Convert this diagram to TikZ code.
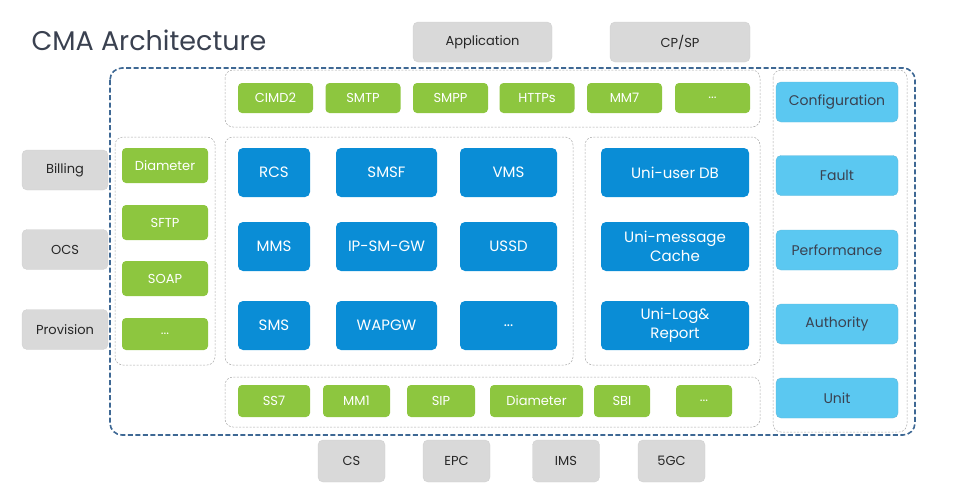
\documentclass[tikz,border=0pt]{standalone}
\usepackage{fontspec}
\setmainfont{Poppins}
\usetikzlibrary{positioning}
\definecolor{cmagreen}{HTML}{8DC63F}
\definecolor{cmablue}{HTML}{0A8DD6}
\definecolor{cmasky}{HTML}{5BC8F1}
\definecolor{cmagray}{HTML}{D9D9D9}
\definecolor{cmaframe}{HTML}{3E6894}
\definecolor{cmatext}{HTML}{3A4150}
\tikzset{
  gbox/.style = {rectangle, rounded corners=4pt, fill=cmagreen, text=white, inner sep=0pt, font=\fontsize{13}{15}\selectfont},
  bbox/.style = {rectangle, rounded corners=5pt, fill=cmablue, text=white, inner sep=0pt, align=center, font=\fontsize{15}{18}\selectfont},
  sbox/.style = {rectangle, rounded corners=5pt, fill=cmasky, draw=cmasky!80!gray, text=cmatext, inner sep=0pt, minimum width=122pt, minimum height=40pt, font=\fontsize{14}{16}\selectfont},
  xbox/.style = {rectangle, rounded corners=5pt, fill=cmagray, draw=black!18, text=black!85, inner sep=0pt, font=\fontsize{13}{15}\selectfont},
  grp/.style = {draw=black!35, dash pattern=on 2pt off 1.5pt, line width=0.5pt, rounded corners=8pt}
}

\begin{document}
\begin{tikzpicture}[x=1pt, y=-1pt]
    \useasboundingbox (0,0) rectangle (978,493);
    \node[anchor=west, text=cmatext, font=\fontsize{27}{30}\selectfont] (title) at (28,40) {CMA Architecture};
    % outer frame
    \draw[cmaframe, line width=1.6pt, dash pattern=on 5pt off 2.5pt, rounded corners=12pt] (110,68) rectangle (915,435);
    % groups
    \draw[grp] (225,70) rectangle (760,127);
    \draw[grp] (115,137) rectangle (215,365);
    \draw[grp] (225,137) rectangle (573,365);
    \draw[grp] (585,137) rectangle (760,365);
    \draw[grp] (225,377) rectangle (760,427);
    \draw[grp] (773,70) rectangle (907,432);
    % outside systems
    \node[xbox, minimum width=139pt, minimum height=40pt] (app) at (482.5,42) {Application};
    \node[xbox, minimum width=140pt, minimum height=40pt] (cpsp) at (680,42) {CP/SP};
    \foreach \n/\t/\y in {bill/Billing/170, ocs/OCS/249.5, prov/Provision/329.5}
      \node[xbox, minimum width=86pt, minimum height=40pt] (\n) at (65,\y) {\t};
    \foreach \n/\t/\x in {cs/CS/351.5, epc/EPC/456.5, ims/IMS/566, fgc/5GC/671.5}
      \node[xbox, minimum width=67pt, minimum height=42pt] (\n) at (\x,461) {\t};
    % north protocols
    \foreach \n/\t/\x in {cimd/CIMD2/275.5, smtp/SMTP/363, smpp/SMPP/450.5, https/HTTPs/537, mmseven/MM7/624.5}
      \node[gbox, minimum width=75pt, minimum height=30pt] (\n) at (\x,98) {\t};
    \node[gbox, minimum width=75pt, minimum height=30pt] (nmore) at (712.5,98) {...};
    % west protocols
    \foreach \n/\t/\y in {wdia/Diameter/165.5, sftp/SFTP/222.5, soap/SOAP/278.5}
      \node[gbox, minimum width=86pt, minimum height=35pt] (\n) at (165,\y) {\t};
    \node[gbox, minimum width=86pt, minimum height=32pt] (wmore) at (165,334) {...};
    % south protocols
    \node[gbox, minimum width=72pt, minimum height=32pt] (ss) at (274,401) {SS7};
    \node[gbox, minimum width=67pt, minimum height=32pt] (mmone) at (356.5,401) {MM1};
    \node[gbox, minimum width=68pt, minimum height=32pt] (sip) at (441,401) {SIP};
    \node[gbox, minimum width=93pt, minimum height=32pt] (sdia) at (536.5,401) {Diameter};
    \node[gbox, minimum width=56pt, minimum height=32pt] (sbi) at (622,401) {SBI};
    \node[gbox, minimum width=56pt, minimum height=32pt] (smore) at (704,401) {...};
    % services
    \node[bbox, minimum width=72pt, minimum height=49pt] (rcs) at (274,172.5) {RCS};
    \node[bbox, minimum width=101pt, minimum height=49pt] (smsf) at (386.5,172.5) {SMSF};
    \node[bbox, minimum width=97pt, minimum height=49pt] (vms) at (508.5,172.5) {VMS};
    \node[bbox, minimum width=72pt, minimum height=49pt] (mms) at (274,246.5) {MMS};
    \node[bbox, minimum width=101pt, minimum height=49pt] (ipsm) at (386.5,246.5) {IP-SM-GW};
    \node[bbox, minimum width=97pt, minimum height=49pt] (ussd) at (508.5,246.5) {USSD};
    \node[bbox, minimum width=72pt, minimum height=49pt] (sms) at (274,325.5) {SMS};
    \node[bbox, minimum width=101pt, minimum height=49pt] (wap) at (386.5,325.5) {WAPGW};
    \node[bbox, minimum width=97pt, minimum height=49pt] (vmore) at (508.5,325.5) {...};
    % unified data
    \node[bbox, minimum width=148pt, minimum height=49pt] (udb) at (675,172.5) {Uni-user DB};
    \node[bbox, minimum width=148pt, minimum height=49pt, font=\fontsize{15}{19}\selectfont] (ucache) at (675,246.5) {Uni-message\\Cache};
    \node[bbox, minimum width=148pt, minimum height=49pt, font=\fontsize{15}{19}\selectfont] (ulog) at (675,325.5) {Uni-Log\&\\Report};
    % management
    \foreach \n/\t/\y in {conf/Configuration/102, fault/Fault/175.5, perf/Performance/250, auth/Authority/324, unit/Unit/398}
      \node[sbox] (\n) at (837,\y) {\t};
\end{tikzpicture}
\end{document}
